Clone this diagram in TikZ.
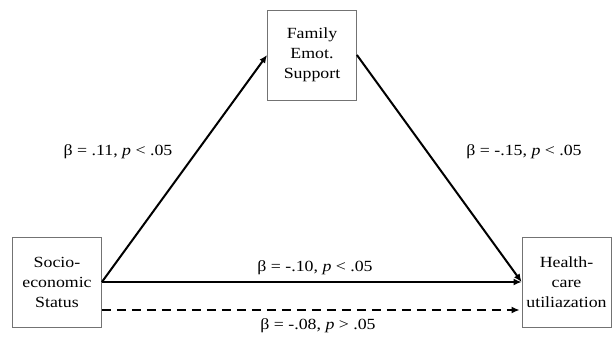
\documentclass[tikz,border=0pt]{standalone}
\usepackage{fontspec}
\setmainfont[FakeStretch=1.15]{Liberation Serif}
\usetikzlibrary{arrows,arrows.meta,calc}
\tikzset{>={Latex[length=8pt,width=7pt]}}
\tikzset{
  varbox/.style={draw=black!55,line width=0.8pt,minimum width=89pt,minimum height=90pt,
    align=center,inner sep=0pt,font=\fontsize{15.5}{20}\selectfont},
  path/.style={->,line width=2pt},
  coef/.style={font=\fontsize{15.5}{18}\selectfont}
}

\begin{document}
\begin{tikzpicture}[x=1pt,y=-1pt]
  \useasboundingbox (0,0) rectangle (612,339);
  % Boxes
  \node[varbox] (ses) at (57,282) {Socio-\\economic\\Status};
  \node[varbox] (fam) at (312,55) {Family\\Emot.\\Support};
  \node[varbox] (hcu) at (566.5,282) {Health-\\care\\utiliazation};

  % Vertices
  \coordinate (d1) at ($(ses.east)+(0,28)$);
  \coordinate (d2) at ($(hcu.west)+(-2,28)$);

  % Lines
  \draw[path] (ses.east) -- (fam.west);
  \draw[path] (fam.east) -- (hcu.west);
  \draw[path] (ses.east) -- (hcu.west);
  \draw[path,dashed,dash pattern=on 9pt off 6pt] (d1) -- (d2);

  % Labels
  \node[coef] (l1) at (118,152) {β = .11, \textit{p} < .05};
  \node[coef] (l2) at (524,152) {β = -.15, \textit{p} < .05};
  \node[coef] (l3) at (315,268) {β = -.10, \textit{p} < .05};
  \node[coef] (l4) at (318,326) {β = -.08, \textit{p} > .05};
\end{tikzpicture}
\end{document}
